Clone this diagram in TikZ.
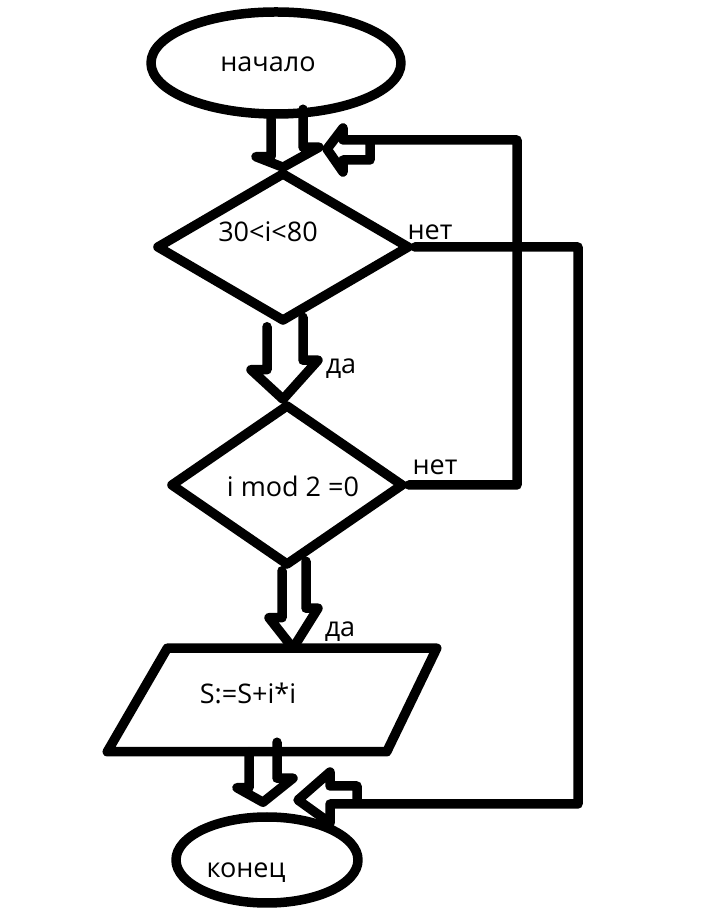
\documentclass[tikz,border=0pt]{standalone}
\usepackage{fontspec}
\setmainfont{Open Sans}
\usetikzlibrary{shapes.geometric,calc}
\begin{document}
\begin{tikzpicture}[x=1pt,y=1pt,line width=9.5pt,line join=round,line cap=round,
  shapebox/.style={draw,inner sep=0pt},
  lbl/.style={font=\fontsize{27}{31}\selectfont,anchor=base,inner sep=0pt},
  conn/.style={draw}]
\useasboundingbox[fill=white] (0,0) rectangle (708,916);
% shapes
\node[shapebox,ellipse,minimum width=250,minimum height=102] (start) at (276,853) {};
\node[shapebox,diamond,minimum width=254,minimum height=150] (d1) at (283,669) {};
\node[shapebox,diamond,minimum width=234,minimum height=162] (d2) at (287,431) {};
\node[inner sep=0pt,minimum width=320,minimum height=94] (act) at (272,216) {};
\draw (act.south west) -- ($(act.north west)+(60,0)$) -- (act.north east)
  -- ($(act.south east)+(-50,0)$) -- cycle;
\node[shapebox,ellipse,minimum width=182,minimum height=86] (end) at (267,56) {};
% texts
\node[lbl] (tstart) at (268,844) {начало};
\node[lbl] (tcond1) at (268,674) {30<i<80};
\node[lbl] (tno1) at (430,676) {нет};
\node[lbl] (tyes1) at (341,542) {да};
\node[lbl] (tcond2) at (293,419) {i mod 2 =0};
\node[lbl] (tno2) at (435,441) {нет};
\node[lbl] (tyes2) at (340,279) {да};
\node[lbl] (tact) at (248,212) {S:=S+i*i};
\node[lbl] (tend) at (246,38) {конец};
% helper coordinates
\coordinate (c1) at (517,776);
\coordinate (tipA) at (327,767);
\coordinate (c2) at (578,112);
\coordinate (tipB) at (298,116);
% block arrows
\draw[conn] ($(start.south)+(-5,0)$) -- ++(0,-38) -- ++(-15,0) -- (d1.north)
  -- ++(36,20) -- ++(-16,0) -- ++(0,38);
\draw[conn] ($(d1.south)+(-16,0)$) -- ++(0,-43) -- ++(-16,0) -- ($(d2.north)+(-4,0)$)
  -- ++(35,39) -- ++(-15,0) -- ++(0,43);
\draw[conn] ($(d2.south)+(-5,0)$) -- ++(0,-47) -- ++(-13,0) -- ($(act.north)+(21,0)$)
  -- ++(25,40) -- ++(-12,0) -- ++(0,47);
\draw[conn] ($(act.south)+(-23,0)$) -- ++(0,-36) -- ++(-12,0) -- ($(end.north)+(-4,10)$)
  -- ++(30,24) -- ++(-16,0) -- ++(0,36);
% loop connectors
\draw[conn] (d2.east) -| (c1) -- (343,776) -- (343,788) -- (tipA) -- (343,744)
  -- (343,756) -- (370,756) -- (370,776);
\draw[conn] (d1.east) -| (c2) -- (330,112) -- (330,93) -- (tipB) -- (330,144)
  -- (330,130) -- (357,130) -- (357,112);
\end{tikzpicture}
\end{document}
